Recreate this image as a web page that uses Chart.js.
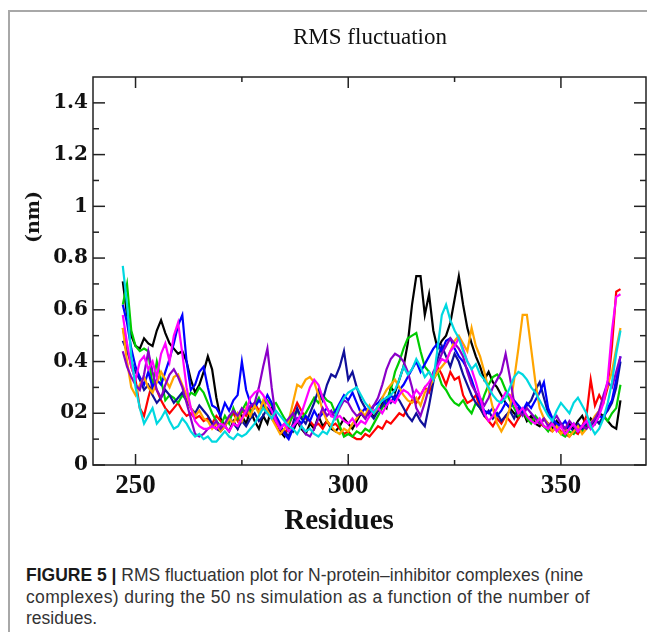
<!DOCTYPE html>
<html>
<head>
<meta charset="utf-8">
<script src="https://cdn.jsdelivr.net/npm/chart.js@4.4.1/dist/chart.umd.min.js"></script>
<style>
  body { margin: 0; background: #fff; }
  #wrap { position: relative; width: 647px; height: 642px; overflow: hidden; }
  #frameTop { position: absolute; left: 8px; top: 10px; width: 639px; height: 0; border-top: 2px solid #a8a8a8; }
  #frameLeft { position: absolute; left: 8px; top: 10px; width: 0; height: 622px; border-left: 2px solid #a8a8a8; }
  #mycanvas { position: absolute; left: 0; top: 0; }
  .serif { position: absolute; font-family: "Liberation Serif", "Times New Roman", serif; color: #111; white-space: nowrap; }
  #title { left: 270px; width: 200px; top: 24px; text-align: center; font-size: 23px; line-height: 26px; }
  #xtitle { left: 339px; top: 519px; transform: translate(-50%, -50%); font-size: 29px; font-weight: bold; }
  #ytitle { left: 32px; top: 217px; transform: translate(-50%, -50%) rotate(-90deg); font-family: "DejaVu Serif", serif; font-size: 19px; font-weight: bold; }
  #caption { position: absolute; left: 26px; top: 565px; font-family: "Liberation Sans", Arial, sans-serif; font-size: 17.5px; line-height: 21.5px; color: #333; white-space: nowrap; }
  #caption b { color: #1a1a1a; }
  #caption .l2 { letter-spacing: 0.35px; }
</style>
</head>
<body>
<div id="wrap">
  <div id="frameTop"></div>
  <div id="frameLeft"></div>
  <canvas id="mycanvas" width="647" height="545"></canvas>
  <div id="title" class="serif">RMS fluctuation</div>
  <div id="xtitle" class="serif">Residues</div>
  <div id="ytitle" class="serif">(nm)</div>
  <div id="caption"><b>FIGURE 5 |</b> RMS fluctuation plot for N-protein–inhibitor complexes (nine<br><span class="l2">complexes) during the 50 ns simulation as a function of the number of</span><br>residues.</div>
</div>
<script>
// residue numbers 247..364
var firstResidue = 247;

var xTickValues = [250, 300, 350];
var xTickLabels = ['250', '300', '350'];
var xMinorTicks = [275, 325];
var yTickValues = [0, 0.2, 0.4, 0.6, 0.8, 1, 1.2, 1.4];
var yTickLabels = ['0', '02', '0.4', '0.6', '0.8', '1', '1.2', '1.4'];
var yMinorTicks = [0.1, 0.3, 0.5, 0.7, 0.9, 1.1, 1.3];

var black = [0.71,0.58,0.50,0.46,0.45,0.49,0.47,0.46,0.52,0.56,
  0.51,0.47,0.45,0.43,0.44,0.40,0.33,0.28,0.31,0.36,
  0.42,0.37,0.26,0.18,0.15,0.13,0.17,0.14,0.19,0.16,
  0.21,0.17,0.14,0.19,0.16,0.22,0.18,0.13,0.11,0.15,
  0.13,0.17,0.14,0.12,0.16,0.14,0.19,0.15,0.17,0.14,
  0.13,0.15,0.18,0.16,0.14,0.17,0.20,0.18,0.22,0.19,
  0.21,0.24,0.22,0.30,0.28,0.33,0.38,0.47,0.62,0.73,
  0.73,0.58,0.66,0.52,0.45,0.48,0.50,0.55,0.64,0.73,
  0.62,0.53,0.47,0.42,0.38,0.33,0.36,0.32,0.30,0.27,
  0.24,0.22,0.20,0.18,0.21,0.17,0.19,0.16,0.15,0.18,
  0.16,0.14,0.17,0.15,0.13,0.16,0.14,0.17,0.19,0.15,
  0.18,0.16,0.20,0.19,0.17,0.15,0.14,0.25];

var red = [0.53,0.45,0.38,0.33,0.22,0.19,0.26,0.32,0.29,0.25,
  0.22,0.20,0.22,0.24,0.21,0.19,0.20,0.18,0.19,0.17,
  0.18,0.16,0.19,0.17,0.15,0.18,0.20,0.17,0.21,0.19,
  0.22,0.24,0.21,0.23,0.20,0.18,0.16,0.14,0.12,0.15,
  0.20,0.24,0.21,0.18,0.17,0.15,0.16,0.14,0.17,0.15,
  0.16,0.14,0.12,0.13,0.11,0.10,0.10,0.12,0.11,0.13,
  0.15,0.14,0.17,0.16,0.18,0.20,0.19,0.22,0.25,0.24,
  0.27,0.30,0.28,0.33,0.38,0.35,0.31,0.36,0.33,0.34,
  0.27,0.24,0.25,0.27,0.22,0.19,0.17,0.15,0.18,0.16,
  0.19,0.17,0.15,0.18,0.21,0.19,0.17,0.18,0.16,0.15,
  0.14,0.13,0.15,0.13,0.12,0.11,0.13,0.12,0.15,0.19,
  0.33,0.23,0.27,0.24,0.30,0.46,0.67,0.68];

var green = [0.62,0.70,0.52,0.46,0.44,0.45,0.44,0.30,0.40,0.33,
  0.25,0.27,0.26,0.24,0.27,0.25,0.28,0.27,0.30,0.28,
  0.24,0.20,0.17,0.15,0.19,0.16,0.22,0.18,0.21,0.24,
  0.20,0.23,0.26,0.22,0.25,0.23,0.24,0.21,0.18,0.16,
  0.19,0.21,0.18,0.20,0.23,0.26,0.24,0.27,0.25,0.24,
  0.20,0.15,0.11,0.12,0.11,0.13,0.12,0.14,0.13,0.16,
  0.19,0.22,0.25,0.29,0.36,0.40,0.45,0.49,0.50,0.51,
  0.44,0.38,0.36,0.33,0.36,0.31,0.29,0.26,0.24,0.23,
  0.25,0.22,0.20,0.24,0.22,0.27,0.31,0.34,0.35,0.33,
  0.29,0.25,0.22,0.19,0.21,0.18,0.16,0.19,0.17,0.15,
  0.13,0.16,0.14,0.12,0.11,0.13,0.12,0.15,0.13,0.16,
  0.15,0.18,0.16,0.19,0.17,0.20,0.22,0.31];

var blue = [0.62,0.55,0.45,0.38,0.34,0.31,0.36,0.30,0.33,0.31,
  0.36,0.41,0.47,0.54,0.58,0.40,0.29,0.31,0.36,0.38,
  0.30,0.23,0.22,0.19,0.24,0.21,0.25,0.27,0.40,0.29,
  0.24,0.22,0.25,0.23,0.27,0.24,0.19,0.16,0.12,0.10,
  0.14,0.18,0.16,0.19,0.17,0.21,0.18,0.20,0.22,0.19,
  0.21,0.24,0.27,0.25,0.28,0.24,0.20,0.22,0.19,0.23,
  0.24,0.26,0.23,0.27,0.25,0.29,0.31,0.34,0.37,0.40,
  0.36,0.39,0.42,0.45,0.47,0.44,0.48,0.49,0.45,0.42,
  0.40,0.37,0.33,0.28,0.24,0.21,0.20,0.22,0.19,0.21,
  0.24,0.22,0.25,0.23,0.21,0.24,0.22,0.25,0.28,0.32,
  0.22,0.18,0.16,0.15,0.17,0.14,0.16,0.13,0.15,0.17,
  0.14,0.16,0.19,0.18,0.22,0.25,0.33,0.42];

var navy = [0.48,0.44,0.40,0.36,0.33,0.29,0.31,0.27,0.24,0.26,
  0.29,0.27,0.24,0.26,0.28,0.25,0.22,0.20,0.23,0.21,
  0.19,0.16,0.14,0.13,0.15,0.18,0.16,0.14,0.17,0.15,
  0.18,0.20,0.17,0.19,0.22,0.20,0.17,0.15,0.13,0.11,
  0.16,0.22,0.18,0.16,0.20,0.24,0.29,0.25,0.31,0.35,
  0.34,0.38,0.44,0.33,0.36,0.30,0.25,0.22,0.20,0.18,
  0.21,0.23,0.26,0.24,0.27,0.25,0.22,0.19,0.17,0.20,
  0.17,0.15,0.23,0.32,0.41,0.46,0.42,0.38,0.43,0.40,
  0.35,0.31,0.27,0.24,0.22,0.19,0.21,0.18,0.20,0.17,
  0.19,0.21,0.18,0.22,0.20,0.23,0.25,0.29,0.32,0.26,
  0.20,0.17,0.15,0.16,0.14,0.15,0.13,0.16,0.14,0.16,
  0.15,0.18,0.16,0.19,0.21,0.24,0.30,0.40];

var orange = [0.53,0.40,0.30,0.27,0.31,0.34,0.30,0.28,0.32,0.36,
  0.33,0.30,0.34,0.35,0.31,0.27,0.22,0.19,0.21,0.18,
  0.17,0.14,0.16,0.13,0.15,0.18,0.16,0.20,0.17,0.22,
  0.19,0.23,0.20,0.25,0.21,0.18,0.15,0.12,0.14,0.17,
  0.24,0.31,0.30,0.33,0.34,0.32,0.27,0.21,0.17,0.15,
  0.13,0.12,0.14,0.13,0.16,0.18,0.21,0.19,0.23,0.20,
  0.22,0.26,0.29,0.31,0.33,0.30,0.27,0.25,0.24,0.26,
  0.23,0.28,0.30,0.33,0.36,0.38,0.40,0.44,0.48,0.50,
  0.47,0.44,0.53,0.46,0.42,0.36,0.29,0.22,0.16,0.13,
  0.16,0.22,0.33,0.45,0.58,0.58,0.45,0.32,0.22,0.18,
  0.16,0.13,0.15,0.12,0.14,0.11,0.13,0.15,0.12,0.14,
  0.16,0.19,0.21,0.26,0.31,0.36,0.45,0.53];

var magenta = [0.58,0.47,0.38,0.33,0.40,0.42,0.37,0.40,0.34,0.43,
  0.47,0.40,0.50,0.55,0.43,0.30,0.22,0.17,0.15,0.14,
  0.14,0.15,0.14,0.16,0.15,0.13,0.16,0.15,0.18,0.21,
  0.26,0.28,0.29,0.27,0.24,0.21,0.17,0.14,0.16,0.13,
  0.15,0.17,0.20,0.25,0.30,0.33,0.31,0.26,0.22,0.19,
  0.18,0.19,0.17,0.16,0.18,0.15,0.17,0.16,0.19,0.21,
  0.22,0.20,0.23,0.25,0.24,0.27,0.29,0.28,0.26,0.29,
  0.27,0.30,0.32,0.35,0.38,0.41,0.40,0.44,0.46,0.49,
  0.45,0.40,0.37,0.32,0.26,0.20,0.17,0.19,0.22,0.25,
  0.28,0.27,0.24,0.20,0.22,0.19,0.17,0.16,0.18,0.15,
  0.14,0.16,0.13,0.15,0.12,0.14,0.16,0.13,0.15,0.17,
  0.14,0.16,0.19,0.24,0.33,0.52,0.65,0.66];

var purple = [0.44,0.38,0.34,0.31,0.29,0.35,0.44,0.36,0.29,0.26,
  0.31,0.35,0.37,0.34,0.30,0.24,0.18,0.12,0.11,0.12,
  0.14,0.15,0.17,0.14,0.16,0.19,0.21,0.19,0.22,0.20,
  0.23,0.24,0.30,0.38,0.45,0.30,0.18,0.14,0.16,0.18,
  0.20,0.17,0.15,0.12,0.11,0.14,0.18,0.22,0.19,0.21,
  0.18,0.22,0.25,0.24,0.21,0.19,0.20,0.18,0.21,0.23,
  0.26,0.31,0.37,0.41,0.43,0.42,0.40,0.36,0.30,0.22,
  0.19,0.24,0.30,0.36,0.39,0.43,0.46,0.49,0.47,0.45,
  0.42,0.36,0.31,0.28,0.26,0.23,0.26,0.30,0.33,0.36,
  0.43,0.34,0.24,0.21,0.19,0.22,0.20,0.18,0.16,0.18,
  0.15,0.17,0.19,0.16,0.14,0.17,0.15,0.13,0.15,0.14,
  0.16,0.18,0.21,0.27,0.32,0.30,0.36,0.42];

var cyan = [0.77,0.62,0.42,0.30,0.22,0.16,0.19,0.22,0.16,0.18,
  0.21,0.17,0.14,0.15,0.18,0.16,0.13,0.11,0.12,0.10,
  0.11,0.09,0.09,0.11,0.13,0.11,0.10,0.12,0.11,0.12,
  0.14,0.16,0.19,0.22,0.20,0.18,0.21,0.19,0.17,0.15,
  0.14,0.12,0.15,0.13,0.14,0.12,0.11,0.13,0.12,0.15,
  0.19,0.23,0.26,0.28,0.29,0.30,0.27,0.24,0.22,0.20,
  0.23,0.25,0.26,0.27,0.29,0.33,0.38,0.35,0.37,0.41,
  0.38,0.34,0.36,0.33,0.45,0.58,0.62,0.56,0.52,0.49,
  0.44,0.40,0.37,0.39,0.35,0.33,0.30,0.27,0.25,0.24,
  0.26,0.30,0.34,0.36,0.35,0.33,0.30,0.28,0.25,0.22,
  0.19,0.17,0.21,0.24,0.22,0.20,0.24,0.26,0.23,0.20,
  0.15,0.12,0.14,0.18,0.24,0.32,0.43,0.52];

var residues = black.map(function(v, i) { return firstResidue + i; });

function line(label, values, color) {
  return {
    label: label,
    data: values.map(function(v, i) { return {x: residues[i], y: v}; }),
    borderColor: color,
    borderWidth: 2.2,
    pointRadius: 0,
    tension: 0,
    fill: false
  };
}

// inward ticks on all four sides + plot frame
var frameTicks = {
  id: 'frameTicks',
  afterDatasetsDraw: function(chart) {
    var ctx = chart.ctx, a = chart.chartArea, xs = chart.scales.x, ys = chart.scales.y;
    ctx.save();
    ctx.strokeStyle = '#222';
    ctx.lineWidth = 1.5;
    ctx.strokeRect(a.left, a.top, a.right - a.left, a.bottom - a.top);
    function mark(x1, y1, x2, y2) {
      ctx.beginPath(); ctx.moveTo(x1, y1); ctx.lineTo(x2, y2); ctx.stroke();
    }
    function xMark(v, len) {
      var px = xs.getPixelForValue(v);
      mark(px, a.bottom, px, a.bottom - len);
      mark(px, a.top, px, a.top + len);
    }
    function yMark(v, len) {
      var py = ys.getPixelForValue(v);
      mark(a.left, py, a.left + len, py);
      mark(a.right, py, a.right - len, py);
    }
    xTickValues.forEach(function(v) { xMark(v, 11); });
    xMinorTicks.forEach(function(v) { xMark(v, 5); });
    yTickValues.forEach(function(v) { yMark(v, 12); });
    yMinorTicks.forEach(function(v) { yMark(v, 6); });
    ctx.restore();
  }
};

var ctx = document.getElementById('mycanvas');

var rmsfChart = new Chart(ctx, {
  type: 'line',
  data: {
    datasets: [
      line('cyan', cyan, '#00d8e0'),
      line('magenta', magenta, '#ff00ff'),
      line('purple', purple, '#8a00c8'),
      line('orange', orange, '#ffa500'),
      line('blue', blue, '#0000ff'),
      line('navy', navy, '#10109a'),
      line('green', green, '#00cc00'),
      line('red', red, '#ff0000'),
      line('black', black, '#000000')
    ]
  },
  options: {
    responsive: false,
    devicePixelRatio: 1,
    animation: false,
    layout: { padding: { top: 77, right: 1, left: 0, bottom: 0 } },
    plugins: {
      legend: { display: false },
      tooltip: { enabled: false }
    },
    scales: {
      x: {
        type: 'linear',
        min: 240,
        max: 370,
        grid: { display: false, drawTicks: false },
        border: { display: false },
        afterFit: function(s) { s.height = 80; },
        afterBuildTicks: function(s) {
          s.ticks = xTickValues.map(function(v) { return {value: v}; });
        },
        ticks: {
          padding: 5,
          color: '#111',
          font: { family: '"Liberation Serif", serif', size: 27, weight: 'bold' },
          callback: function(value, index) { return xTickLabels[index]; }
        }
      },
      y: {
        min: 0,
        max: 1.5,
        grid: { display: false, drawTicks: false },
        border: { display: false },
        afterFit: function(s) { s.width = 93; },
        afterBuildTicks: function(s) {
          s.ticks = yTickValues.map(function(v) { return {value: v}; });
        },
        ticks: {
          padding: 5,
          color: '#111',
          font: { family: '"DejaVu Serif", serif', size: 20, weight: 'bold' },
          callback: function(value, index) { return yTickLabels[index]; }
        }
      }
    }
  },
  plugins: [frameTicks]
});
</script>
</body>
</html>
